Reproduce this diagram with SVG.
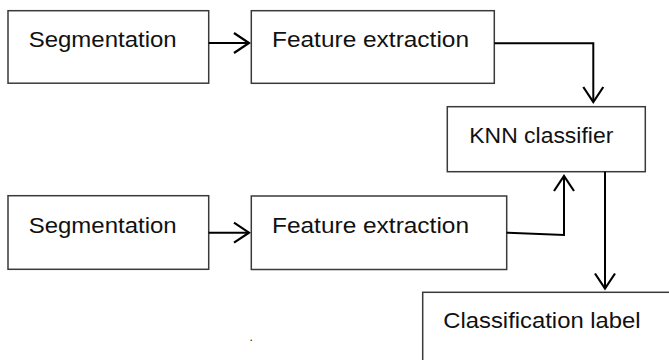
<svg xmlns="http://www.w3.org/2000/svg" width="669" height="360" viewBox="0 0 669 360">
<style>
.box{fill:#ffffff;stroke:#3a3a3a;stroke-width:1.5}
.lbl{font-family:"Liberation Sans","Open Sans",Arial,sans-serif;font-size:22px;fill:#111111}
.con{fill:none;stroke:#000000;stroke-width:2}
</style>
<defs>
<marker id="arr" markerUnits="userSpaceOnUse" markerWidth="20" markerHeight="24" viewBox="-2 -2 20 24" refX="15" refY="10" orient="auto">
<path d="M0,0 L15,10 L0,20" fill="none" stroke="#000000" stroke-width="2.2"/>
</marker>
</defs>
<rect width="669" height="360" fill="#ffffff"/>
<g id="seg1"><rect class="box" x="8" y="10.7" width="200.7" height="72.5"/><text class="lbl" x="28.7" y="46.7" textLength="148" lengthAdjust="spacingAndGlyphs">Segmentation</text></g>
<g id="feat1"><rect class="box" x="251.3" y="10.7" width="243" height="72.6"/><text class="lbl" x="272" y="46.7" textLength="197" lengthAdjust="spacingAndGlyphs">Feature extraction</text></g>
<g id="knn"><rect class="box" x="447.3" y="106.7" width="198" height="65"/><text class="lbl" x="469.3" y="142.7" textLength="144" lengthAdjust="spacingAndGlyphs">KNN classifier</text></g>
<g id="seg2"><rect class="box" x="8" y="195.7" width="200.7" height="73.6"/><text class="lbl" x="28.7" y="233" textLength="148" lengthAdjust="spacingAndGlyphs">Segmentation</text></g>
<g id="feat2"><rect class="box" x="251.3" y="196" width="255.4" height="73.5"/><text class="lbl" x="272" y="232.7" textLength="197" lengthAdjust="spacingAndGlyphs">Feature extraction</text></g>
<g id="label"><rect class="box" x="422.7" y="292.3" width="270" height="100"/><text class="lbl" x="443.3" y="328.3" textLength="197.3" lengthAdjust="spacingAndGlyphs">Classification label</text></g>
<g id="connectors">
<path class="con" d="M208.7,43 L249,43" marker-end="url(#arr)"/>
<path class="con" d="M494.3,43.3 L593.3,43.3 L593.3,102" marker-end="url(#arr)"/>
<path class="con" d="M208.7,232.7 L249,232.7" marker-end="url(#arr)"/>
<path class="con" d="M506.7,232.7 L564,235 L564,176" marker-end="url(#arr)"/>
<path class="con" d="M605,171.7 L605,288.5" marker-end="url(#arr)"/>
</g>
<text class="lbl" x="249.5" y="340.5" font-size="12px" style="font-size:12px">.</text>
</svg>
